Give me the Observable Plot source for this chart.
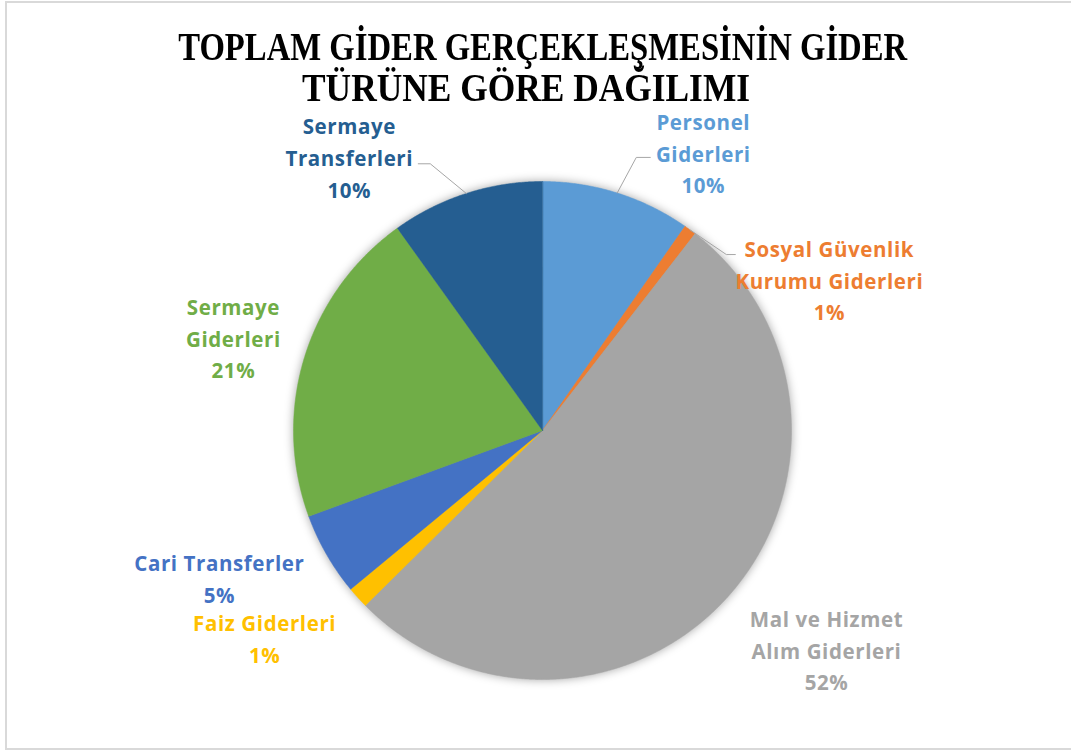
<!DOCTYPE html>
<html>
<head>
<meta charset="utf-8">
<script src="https://cdn.jsdelivr.net/npm/d3@7"></script>
<script src="https://cdn.jsdelivr.net/npm/@observablehq/plot@0.6"></script>
<style>
  html, body { margin: 0; padding: 0; background: #fff; overflow: hidden; }
  #wrap { position: relative; width: 1071px; height: 752px; overflow: hidden; background: #fff; }
  #frame { position: absolute; left: 5px; top: 1px; width: 1090px; height: 745px; border: 2px solid #d9d9d9; box-sizing: content-box; }
  #chart { position: absolute; left: 0; top: 0; }
  .tline { position: absolute; width: 1071px; text-align: center; font-family: "Liberation Serif", serif; font-weight: 700; font-size: 39px; line-height: 26px; height: 26px; color: #000; white-space: nowrap; }
  .tline span { display: inline-block; transform-origin: center center; }
  #chart svg g[aria-label="text"] { letter-spacing: 0.6px; }
</style>
</head>
<body>
<div id="wrap">
  <div id="frame"></div>
  <div id="chart"></div>
  <div class="tline" id="t1" style="top:33.5px; left:7px;"><span>TOPLAM GİDER GERÇEKLEŞMESİNİN GİDER</span></div>
  <div class="tline" id="t2" style="top:74.5px; left:-9px;"><span>TÜRÜNE GÖRE DAĞILIMI</span></div>
</div>
<script>
// ---- data ----
const categories = [
  "Personel Giderleri",
  "Sosyal Güvenlik Kurumu Giderleri",
  "Mal ve Hizmet Alım Giderleri",
  "Faiz Giderleri",
  "Cari Transferler",
  "Sermaye Giderleri",
  "Sermaye Transferleri"
];
const labelTexts = [
  "Personel\nGiderleri",
  "Sosyal Güvenlik\nKurumu Giderleri",
  "Mal ve Hizmet\nAlım Giderleri",
  "Faiz Giderleri",
  "Cari Transferler",
  "Sermaye\nGiderleri",
  "Sermaye\nTransferleri"
];
const shares = [9.7, 0.8, 52.1, 1.4, 5.4, 20.7, 9.9];
const colors = ["#5B9BD5", "#ED7D31", "#A5A5A5", "#FFC000", "#4472C4", "#70AD47", "#255E91"];

// ---- layout (label placement, not data) ----
const labelRadius = [1.297, 1.298, 1.445, 1.394, 1.433, 1.294, 1.339];
const labelAngleOffset = [12.4, 26.2, -3.7, 5.3, 4.8, -0.7, -17.6]; // degrees
const labelNudge = [1, -3, -3, -2, -5, -3, -3]; // px, text only
const leaderOffsets = { 0: [[-67, 7], [-53, 7]], 1: [[-103, -27], [-94, -27]], 6: [[81, 5], [69, 5]] }; // px from label centre

const W = 1071, H = 752, R = 249, CX = 542, CY = 430;
const total = d3.sum(shares);
const ends = d3.cumsum(shares);

const slicePts = [];
const labels = [];
const leaders = [];
categories.forEach((name, i) => {
  const a0 = (ends[i] - shares[i]) / total * 2 * Math.PI;
  const a1 = ends[i] / total * 2 * Math.PI;
  slicePts.push({name, x: 0, y: 0});
  const n = Math.max(2, Math.ceil((a1 - a0) / 0.005));
  for (let k = 0; k <= n; k++) {
    const a = a0 + (a1 - a0) * k / n;
    slicePts.push({name, x: Math.sin(a), y: Math.cos(a)});
  }
  const mid = (a0 + a1) / 2;
  const la = mid + labelAngleOffset[i] * Math.PI / 180;
  const lx = labelRadius[i] * Math.sin(la), ly = labelRadius[i] * Math.cos(la);
  labels.push({name, x: lx, y: ly - labelNudge[i] / R, text: labelTexts[i] + "\n" + Math.round(shares[i] / total * 100) + "%", color: colors[i]});
  if (leaderOffsets[i]) {
    leaders.push({name, x: Math.sin(mid), y: Math.cos(mid)});
    for (const [ox, oy] of leaderOffsets[i]) leaders.push({name, x: lx + ox / R, y: ly - oy / R});
  }
});

const chart = Plot.plot({
  width: W,
  height: H,
  margin: 0,
  x: {domain: [-CX / R, (W - CX) / R], axis: null},
  y: {domain: [-(H - CY) / R, CY / R], axis: null},
  color: {domain: categories, range: colors},
  style: {background: "transparent", fontFamily: "'Open Sans', sans-serif"},
  marks: [
    Plot.line(slicePts, {x: "x", y: "y", z: "name", fill: "name", stroke: "name", strokeWidth: 0.5, curve: "linear-closed"}),
    Plot.line(leaders, {x: "x", y: "y", z: "name", stroke: "#a6a6a6", strokeWidth: 1}),
    Plot.text(labels, {x: "x", y: "y", text: "text", fill: d => d.color, fontSize: 20.5, fontWeight: 700, lineHeight: 1.55})
  ]
});
document.getElementById("chart").appendChild(chart);
const pieG = chart.querySelector('g[aria-label="line"]');
if (pieG) pieG.style.filter = "drop-shadow(0px 0px 5px rgba(0,0,0,0.35))";

// fit title widths to reference proportions
const targets = {t1: 729, t2: 448};
for (const id in targets) {
  const s = document.querySelector(`#${id} span`);
  const w = s.getBoundingClientRect().width;
  s.style.transform = `scaleX(${targets[id] / w})`;
}
</script>
</body>
</html>
